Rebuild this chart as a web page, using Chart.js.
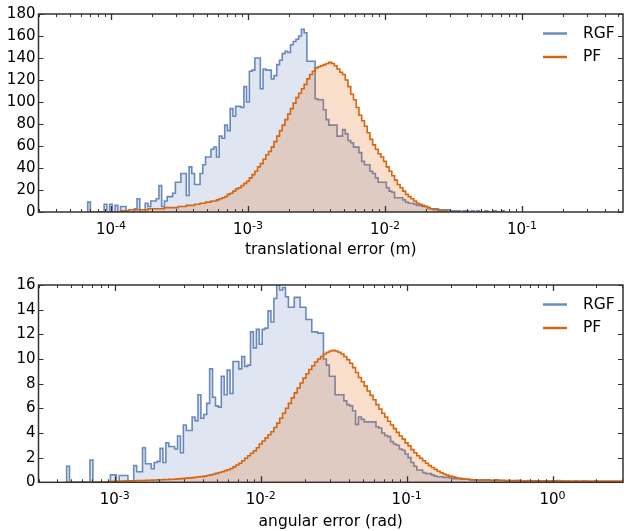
<!DOCTYPE html>
<html><head><meta charset="utf-8">
<script src="https://cdn.jsdelivr.net/npm/chart.js@4/dist/chart.umd.min.js"></script>
<style>
html,body{margin:0;padding:0;background:#fff;width:624px;height:531px;overflow:hidden}
canvas{position:absolute;left:0}
#c1{top:0}
#c2{top:266px}
</style></head><body>
<canvas id="c1" width="624" height="266"></canvas>
<canvas id="c2" width="624" height="266"></canvas>
<script>
// ---------- data ----------
const seriesNames = ['RGF', 'PF'];
const binWidthDecades = 0.02;           // log-spaced histogram bins

// translational error (m)
const transFirstEdgeExp = -4.17;
const transRGF = [9,0,0,0,0,0,7,0,7,0,
 6,0,5,5,0,0,0,3,12,0,
 0,8,5,10,10,12,24,5,10,14,
 14,17,27,27,35,35,15,41,35,25,
 25,35,43,50,50,57,59,50,69,67,
 79,74,94,87,96,96,95,114,100,128,
 129,140,140,112,130,129,129,121,124,134,
 138,144,146,145,152,155,157,160,166,163,
 137,137,137,103,102,102,93,84,79,79,
 79,69,69,75,71,65,63,59,59,54,
 46,43,43,37,35,31,27,27,27,22,
 19,18,13,13,13,11,9,8,8,7,
 6,6,5,5,4,3,3,3,2,2,
 2,2,1,1,1,1,0,1,1,0,
 1,0,1,0,0,1,0,0,1,0,
 0,1];
const transPF = [0,0,0,0,0,0,0,0,0,0,
 0,0,1,1,1,2,2,2,2,2,
 2,2,3,3,3,3,3,3,4,4,
 4,4,4,5,5,5,6,6,6,7,
 7,8,8,9,9,10,10,11,12,13,
 14,16,17,19,21,22,24,26,28,31,
 34,37,41,44,48,52,55,59,64,69,
 74,79,84,89,94,99,104,108,112,116,
 121,125,128,131,132,133,134,135,136,135,
 133,130,127,125,120,114,107,102,95,88,
 83,78,72,66,61,57,53,50,46,41,
 37,33,29,25,22,19,16,14,12,10,
 8,7,6,5,4,3,2,2,1,1,
 1,0,0,0,0,0,0,0,0,0,
 0,0,0,0,0,0,0,0,0,0,
 0,0];
const transTickValues = [1e-4, 1e-3, 1e-2, 1e-1];
const transTickLabels = [['10', '-4'], ['10', '-3'], ['10', '-2'], ['10', '-1']];
const transYMax = 180, transYStep = 20;
const transXRange = [Math.pow(10, -4.529), Math.pow(10, -0.263)];
const transTitle = 'translational error (m)';

// angular error (rad)
const angFirstEdgeExp = -3.33;
const angRGF = [1.3,0,0,0,0,0,0,0,1.8,0,
 0,0,0,0,0,0.6,0.6,0,0.55,0.55,
 0.55,0,0,1.35,0.86,0.86,2.8,1.5,1.5,1.1,
 1.6,1.7,2.75,1.6,3.2,2.9,2.9,2.7,3.75,2.4,
 4.65,4.2,4.2,5.3,5.0,7.1,5.2,5.5,6.4,9.2,
 6.9,6.2,6.1,8.6,7.1,9.1,7.2,9.8,9.8,9.2,
 10.2,9.4,9.5,12.2,10.9,12.4,11.2,12.4,12.5,13.9,
 13.0,14.9,16.0,15.6,15.8,15.05,14.2,14.2,15.0,15.0,
 14.2,14.2,13.2,13.2,12.2,12.2,12.1,12.1,10.0,9.5,
 8.6,8.6,7.1,7.1,7.1,6.6,6.3,6.2,5.8,4.7,
 5.3,5.1,4.9,4.9,4.9,4.9,4.5,4.4,4.0,3.8,
 3.7,3.3,3.1,3.0,2.7,2.6,2.3,2.0,1.6,1.3,
 1.0,1.0,0.8,0.7,0.7,0.6,0.5,0.45,0.45,0.4,
 0.4,0.35,0.3,0.3,0.3,0.25,0.25,0.25,0.2,0.2,
 0.2,0.15,0.2,0.15,0.2,0.15,0.15,0.2,0.15,0.15,
 0.1,0.15,0.1,0.1,0.15,0.1,0.1,0.1,0.15,0.1,
 0.1,0.05,0.1,0.1,0.05,0.1,0.05,0.1,0.15,0.1,
 0.05,0.1,0.05,0.05,0.1,0.05,0.05,0.1,0.05,0.05,
 0.05,0.1,0.05,0.05,0.05,0.05,0.05,0.05,0.05,0.05];
const angPF = [0,0,0,0,0,0,0,0,0,0,
 0,0,0,0.05,0.05,0.08,0.08,0.1,0.1,0.1,
 0.12,0.12,0.13,0.13,0.14,0.15,0.15,0.16,0.17,0.18,
 0.19,0.2,0.21,0.22,0.23,0.24,0.25,0.26,0.28,0.3,
 0.32,0.34,0.36,0.38,0.41,0.45,0.46,0.5,0.55,0.6,
 0.65,0.72,0.8,0.86,0.95,1.02,1.12,1.25,1.4,1.55,
 1.75,1.95,2.15,2.35,2.55,2.8,3.1,3.35,3.6,3.85,
 4.1,4.45,4.8,5.2,5.6,6.0,6.4,6.85,7.25,7.65,
 8.05,8.45,8.8,9.15,9.45,9.75,10.0,10.2,10.4,10.55,
 10.65,10.7,10.65,10.55,10.4,10.2,9.95,9.65,9.3,8.9,
 8.5,8.15,7.8,7.4,7.05,6.7,6.3,5.95,5.6,5.3,
 4.95,4.65,4.35,4.05,3.75,3.5,3.2,2.95,2.65,2.4,
 2.15,1.95,1.75,1.55,1.35,1.2,1.05,0.9,0.78,0.67,
 0.58,0.5,0.44,0.38,0.33,0.3,0.27,0.25,0.23,0.21,
 0.2,0.19,0.19,0.18,0.18,0.17,0.17,0.16,0.16,0.16,
 0.15,0.15,0.15,0.14,0.14,0.14,0.13,0.13,0.13,0.13,
 0.12,0.12,0.12,0.12,0.12,0.12,0.12,0.12,0.12,0.12,
 0.11,0.11,0.11,0.11,0.11,0.11,0.1,0.1,0.1,0.1,
 0.1,0.1,0.1,0.1,0.1,0.1,0.1,0.1,0.1,0.1];
const angTickValues = [1e-3, 1e-2, 1e-1, 1];
const angTickLabels = [['10', '-3'], ['10', '-2'], ['10', '-1'], ['10', '0']];
const angYMax = 16, angYStep = 2;
const angXRange = [Math.pow(10, -3.485), Math.pow(10, 0.483)];
const angTitle = 'angular error (rad)';

// ---------- styling ----------
const FONT = "'DejaVu Sans', 'Liberation Sans', sans-serif";
const RGF_LINE = 'rgba(76,114,176,0.82)';
const RGF_FILL = 'rgba(76,114,176,0.18)';
const PF_LINE = '#d8650f';
const PF_FILL = 'rgba(221,104,16,0.22)';
const AXIS_COLOR = '#333';

function histPoints(counts, firstExp) {
  const pts = [{x: Math.pow(10, firstExp), y: 0}];
  counts.forEach((c, k) => pts.push({x: Math.pow(10, firstExp + k * binWidthDecades), y: c}));
  pts.push({x: Math.pow(10, firstExp + counts.length * binWidthDecades), y: 0});
  return pts;
}

const framePlugin = {
  id: 'frameTicksLegend',
  afterDraw(chart) {
    const {ctx, chartArea: a, scales: {x, y}} = chart;
    const cfg = chart.options.plugins.frameTicksLegend;
    ctx.save();
    ctx.strokeStyle = AXIS_COLOR;
    // x ticks (major + minor), inward on bottom and top
    const lo = Math.floor(Math.log10(x.min)), hi = Math.ceil(Math.log10(x.max));
    for (let d = lo; d <= hi; d++) {
      for (let m = 1; m <= 9; m++) {
        const v = m * Math.pow(10, d);
        if (v < x.min || v > x.max) continue;
        const px = Math.round(x.getPixelForValue(v)) + 0.5;
        const major = m === 1;
        const len = major ? 6 : 3;
        ctx.lineWidth = major ? 1.3 : 1;
        ctx.beginPath();
        ctx.moveTo(px, a.bottom); ctx.lineTo(px, a.bottom - len);
        ctx.moveTo(px, a.top); ctx.lineTo(px, a.top + len);
        ctx.stroke();
      }
    }
    // y ticks inward on left and right
    ctx.lineWidth = 1.2;
    y.ticks.forEach(t => {
      const py = Math.round(y.getPixelForValue(t.value)) + 0.5;
      ctx.beginPath();
      ctx.moveTo(a.left, py); ctx.lineTo(a.left + 5, py);
      ctx.moveTo(a.right, py); ctx.lineTo(a.right - 5, py);
      ctx.stroke();
    });
    // frame
    ctx.lineWidth = 1.5;
    ctx.strokeRect(a.left, a.top, a.right - a.left, a.bottom - a.top);
    // x tick labels with superscript exponents
    ctx.fillStyle = '#000';
    ctx.textBaseline = 'alphabetic';
    ctx.textAlign = 'left';
    cfg.tickValues.forEach((v, i) => {
      const [base, exp] = cfg.tickLabels[i];
      ctx.font = '15px ' + FONT;
      const wb = ctx.measureText(base).width;
      ctx.font = '11px ' + FONT;
      const we = ctx.measureText(exp).width;
      const px = x.getPixelForValue(v);
      const x0 = px - (wb + we) / 2;
      const by = a.bottom + 22;
      ctx.font = '15px ' + FONT;
      ctx.fillText(base, x0, by);
      ctx.font = '11px ' + FONT;
      ctx.fillText(exp, x0 + wb, by - 5.5);
    });
    // legend
    ctx.font = '15.5px ' + FONT;
    ctx.textBaseline = 'middle';
    chart.data.datasets.forEach((ds, i) => {
      const ly = a.top + 19.5 + i * 23.5;
      ctx.strokeStyle = ds.borderColor;
      ctx.lineWidth = 2.5;
      ctx.beginPath();
      ctx.moveTo(543, ly); ctx.lineTo(567, ly);
      ctx.stroke();
      ctx.fillStyle = '#000';
      ctx.fillText(ds.label, 583, ly);
    });
    ctx.restore();
  }
};

function makeChart(id, cfg) {
  return new Chart(document.getElementById(id), {
    type: 'line',
    data: {
      datasets: [
        {label: seriesNames[0], data: histPoints(cfg.rgf, cfg.firstExp), stepped: true,
         borderColor: RGF_LINE, backgroundColor: RGF_FILL, borderWidth: 1.6,
         pointRadius: 0, fill: 'origin', order: 2},
        {label: seriesNames[1], data: histPoints(cfg.pf, cfg.firstExp), stepped: true,
         borderColor: PF_LINE, backgroundColor: PF_FILL, borderWidth: 1.6,
         pointRadius: 0, fill: 'origin', order: 1}
      ]
    },
    options: {
      responsive: false, animation: false, events: [],
      layout: {padding: {top: cfg.padTop, right: 1, left: 0, bottom: 0}},
      plugins: {legend: {display: false}, tooltip: {enabled: false},
                frameTicksLegend: {tickValues: cfg.tickValues, tickLabels: cfg.tickLabels}},
      scales: {
        x: {
          type: 'logarithmic', min: cfg.xRange[0], max: cfg.xRange[1],
          grid: {display: false, drawTicks: false}, border: {display: false},
          afterBuildTicks: s => { s.ticks = cfg.tickValues.map(v => ({value: v})); },
          afterFit: s => { s.height = cfg.axisHeight; },
          ticks: {display: false},
          title: {display: true, text: cfg.title, color: '#000',
                  font: {family: FONT, size: 15.5}, padding: {top: 0, bottom: cfg.titlePad}}
        },
        y: {
          type: 'linear', min: 0, max: cfg.yMax,
          grid: {display: false, drawTicks: false}, border: {display: false},
          afterFit: s => { s.width = 38.5; },
          ticks: {stepSize: cfg.yStep, padding: 3, color: '#000',
                  font: {family: FONT, size: 15}}
        }
      }
    },
    plugins: [framePlugin]
  });
}

makeChart('c1', {rgf: transRGF, pf: transPF, firstExp: transFirstEdgeExp,
  xRange: transXRange, tickValues: transTickValues, tickLabels: transTickLabels,
  yMax: transYMax, yStep: transYStep, title: transTitle,
  padTop: 14, axisHeight: 54, titlePad: 6.7});
makeChart('c2', {rgf: angRGF, pf: angPF, firstExp: angFirstEdgeExp,
  xRange: angXRange, tickValues: angTickValues, tickLabels: angTickLabels,
  yMax: angYMax, yStep: angYStep, title: angTitle,
  padTop: 19, axisHeight: 49.7, titlePad: 1});
</script>
</body></html>
